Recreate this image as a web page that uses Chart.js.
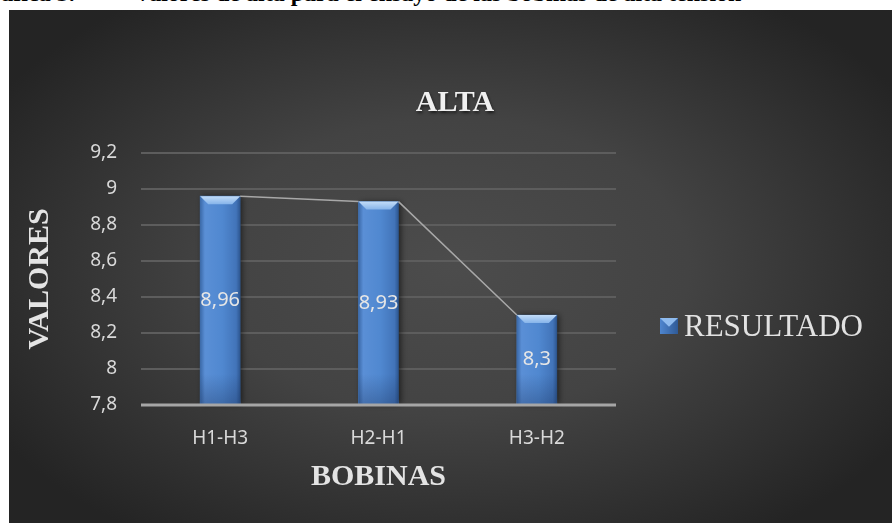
<!DOCTYPE html>
<html lang="es">
<head>
<meta charset="utf-8">
<script src="https://cdn.jsdelivr.net/npm/chart.js@4.4.1/dist/chart.umd.min.js"></script>
<style>
  html, body { margin: 0; padding: 0; background: #fff; }
  body { width: 892px; height: 523px; position: relative; overflow: hidden; }
  .leyenda-doc {
    position: absolute; top: -19px; white-space: nowrap; color: #000;
    font: bold 24px "Liberation Serif", serif; line-height: 24px;
  }
  #marco { position: absolute; left: 9px; top: 10px; width: 883px; height: 513px; }
</style>
</head>
<body>
<span class="leyenda-doc" style="left:-28px">Gráfica 3.</span>
<span class="leyenda-doc" style="left:134px">Valores de alta para el ensayo de las bobinas de alta tensión</span>
<div id="marco"><canvas id="chartAlta"></canvas></div>
<script>
// datos del ensayo
const titulo = 'ALTA';
const categorias = ['H1-H3', 'H2-H1', 'H3-H2'];
const resultado = [8.96, 8.93, 8.3];
const ticksY = [7.8, 8, 8.2, 8.4, 8.6, 8.8, 9, 9.2];

const coma = v => String(v).replace('.', ',');
const fuenteNum = '"Noto Sans", sans-serif';
const fuenteSerif = '"Liberation Serif", "Times New Roman", serif';

// fondo oscuro con degradado radial
const fondo = {
  id: 'fondo',
  beforeDraw(chart) {
    const { ctx, width, height } = chart;
    ctx.save();
    const cx = width / 2, cy = height / 2;
    ctx.translate(cx, cy);
    ctx.scale(1, 0.62);
    const g = ctx.createRadialGradient(0, 0, 0, 0, 0, width * 0.6);
    g.addColorStop(0, '#4c4c4c');
    g.addColorStop(0.45, '#434343');
    g.addColorStop(1, '#242424');
    ctx.fillStyle = g;
    ctx.fillRect(-cx, -cy / 0.62, width, height / 0.62);
    ctx.restore();
  }
};

// barras con bisel, líneas de serie, etiquetas, título y leyenda
const decoracion = {
  id: 'decoracion',
  afterDatasetsDraw(chart) {
    const { ctx } = chart;
    const meta = chart.getDatasetMeta(0);
    const barras = meta.data.map(el => el.getProps(['x', 'y', 'base', 'width'], true));

    barras.forEach(b => {
      const x0 = b.x - b.width / 2, x1 = b.x + b.width / 2;
      ctx.save();
      ctx.shadowColor = 'rgba(0,0,0,0.55)';
      ctx.shadowBlur = 6;
      ctx.shadowOffsetX = 2;
      const gh = ctx.createLinearGradient(x0, 0, x1, 0);
      gh.addColorStop(0, '#3b69a8');
      gh.addColorStop(0.12, '#5a8fd6');
      gh.addColorStop(0.55, '#5088d0');
      gh.addColorStop(0.9, '#4274b9');
      gh.addColorStop(1, '#2d5690');
      ctx.fillStyle = gh;
      ctx.fillRect(x0, b.y, b.width, b.base - b.y);
      ctx.restore();

      // sombra inferior
      const gv = ctx.createLinearGradient(0, b.base - 30, 0, b.base);
      gv.addColorStop(0, 'rgba(20,40,80,0)');
      gv.addColorStop(1, 'rgba(20,40,80,0.3)');
      ctx.fillStyle = gv;
      ctx.fillRect(x0, b.base - 30, b.width, 30);

      // bisel superior
      const bisel = 8;
      const gb = ctx.createLinearGradient(0, b.y, 0, b.y + bisel);
      gb.addColorStop(0, '#c2dcf8');
      gb.addColorStop(1, '#86b4ea');
      ctx.fillStyle = gb;
      ctx.beginPath();
      ctx.moveTo(x0, b.y);
      ctx.lineTo(x1, b.y);
      ctx.lineTo(x1 - bisel, b.y + bisel);
      ctx.lineTo(x0 + bisel, b.y + bisel);
      ctx.closePath();
      ctx.fill();
    });

    // línea base del eje
    const area = chart.chartArea;
    ctx.save();
    ctx.strokeStyle = '#a6a6a6';
    ctx.lineWidth = 3;
    ctx.beginPath();
    ctx.moveTo(area.left, area.bottom);
    ctx.lineTo(area.right, area.bottom);
    ctx.stroke();
    ctx.restore();

    // líneas de serie entre barras
    ctx.save();
    ctx.strokeStyle = '#a8a8a8';
    ctx.lineWidth = 1.5;
    ctx.beginPath();
    for (let i = 0; i < barras.length - 1; i++) {
      const a = barras[i], b = barras[i + 1];
      ctx.moveTo(a.x + a.width / 2, a.y);
      ctx.lineTo(b.x - b.width / 2, b.y);
    }
    ctx.stroke();
    ctx.restore();

    // valores dentro de las barras
    ctx.save();
    ctx.font = '20px ' + fuenteNum;
    ctx.fillStyle = '#e6e6e6';
    ctx.textAlign = 'center';
    ctx.textBaseline = 'middle';
    barras.forEach((b, i) => {
      ctx.fillText(coma(chart.data.datasets[0].data[i]), b.x, (b.y + b.base) / 2);
    });
    ctx.restore();
  },
  afterDraw(chart) {
    const { ctx } = chart;
    ctx.save();
    // título
    ctx.font = 'bold 30px ' + fuenteSerif;
    ctx.textAlign = 'center';
    ctx.textBaseline = 'middle';
    ctx.shadowColor = 'rgba(0,0,0,0.6)';
    ctx.shadowBlur = 3;
    ctx.shadowOffsetX = 1;
    ctx.shadowOffsetY = 2;
    ctx.fillStyle = '#f0f0f0';
    ctx.fillText(titulo, 446, 93);
    ctx.restore();

    // leyenda
    ctx.save();
    const lx = 651, ly = 308, lw = 18, lh = 16;
    const g = ctx.createLinearGradient(lx, 0, lx + lw, 0);
    g.addColorStop(0, '#4f86cf');
    g.addColorStop(1, '#2f5a96');
    ctx.fillStyle = g;
    ctx.fillRect(lx, ly, lw, lh);
    ctx.fillStyle = '#8fbbee';
    ctx.beginPath();
    ctx.moveTo(lx, ly);
    ctx.lineTo(lx + lw, ly);
    ctx.lineTo(lx + lw / 2, ly + lh * 0.55);
    ctx.closePath();
    ctx.fill();
    ctx.font = '31px ' + fuenteSerif;
    ctx.fillStyle = '#e2e2e2';
    ctx.textBaseline = 'middle';
    ctx.fillText(chart.data.datasets[0].label, 675, 318);
    ctx.restore();
  }
};

new Chart(document.getElementById('chartAlta'), {
  type: 'bar',
  data: {
    labels: categorias,
    datasets: [{
      label: 'RESULTADO',
      data: resultado,
      base: 7.8,
      backgroundColor: '#5088d0',
      borderWidth: 0,
      barThickness: 40
    }]
  },
  options: {
    responsive: true,
    maintainAspectRatio: false,
    animation: false,
    layout: { padding: { left: 0, right: 276, top: 143, bottom: 0 } },
    plugins: {
      legend: { display: false },
      tooltip: { enabled: false }
    },
    scales: {
      x: {
        grid: { display: false },
        border: { display: false },
        ticks: { color: '#d9d9d9', font: { family: fuenteNum, size: 19 }, padding: 14 },
        title: {
          display: true, text: 'BOBINAS', color: '#e4e4e4',
          font: { family: fuenteSerif, size: 30, weight: 'bold', lineHeight: 1.2 },
          padding: { top: 0, bottom: 28 }
        },
        afterFit: s => { s.height = 118; }
      },
      y: {
        min: 7.8,
        max: 9.2,
        afterBuildTicks: s => { s.ticks = ticksY.map(v => ({ value: v })); },
        grid: {
          drawTicks: false,
          color: c => (c.tick && c.tick.value === 7.8) ? 'rgba(0,0,0,0)' : '#5d5d5d',
          lineWidth: 2
        },
        border: { display: false },
        ticks: {
          color: '#d9d9d9', font: { family: fuenteNum, size: 19 }, padding: 24,
          callback: v => coma(v)
        },
        title: {
          display: true, text: 'VALORES', color: '#e4e4e4',
          font: { family: fuenteSerif, size: 30, weight: 'bold', lineHeight: 1.2 },
          padding: { top: 13, bottom: 0 }
        },
        afterFit: s => { s.width = 132; }
      }
    }
  },
  plugins: [fondo, decoracion]
});
</script>
</body>
</html>
